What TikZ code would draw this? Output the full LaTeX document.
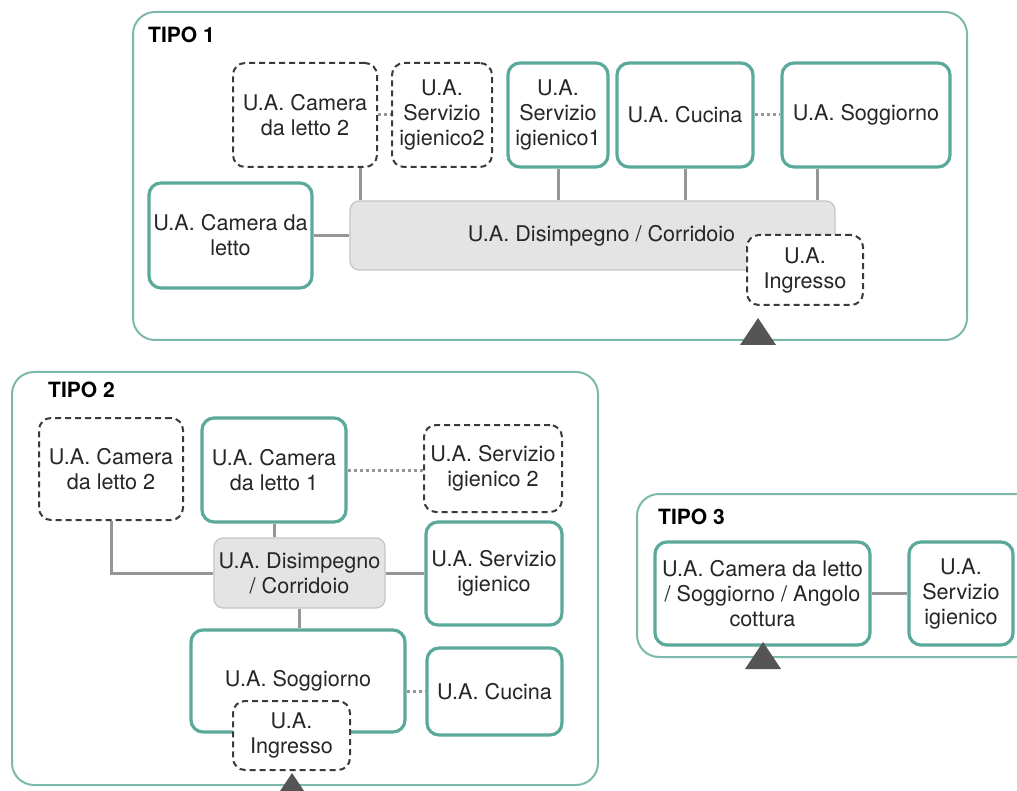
\documentclass[tikz,border=0pt]{standalone}
\usepackage{fontspec}
\setmainfont{TeX Gyre Heros}
\definecolor{roomteal}{HTML}{5BA99A}
\definecolor{frameteal}{HTML}{7DB8AC}
\definecolor{optedge}{HTML}{3A3A3A}
\definecolor{hubfill}{HTML}{E4E4E4}
\definecolor{hubedge}{HTML}{C4C4C4}
\definecolor{linkgray}{HTML}{969696}
\definecolor{entrygray}{HTML}{555555}
\definecolor{txt}{HTML}{262626}
\newcommand\roomfont{\fontsize{21.6}{25}\selectfont}
\newcommand\titlefont{\fontsize{21}{24}\selectfont\bfseries}
\tikzset{
  room/.style={rectangle, rounded corners=12pt, draw=roomteal, line width=3.2pt,
    fill=white, align=center, font=\roomfont, text=txt, inner sep=0pt},
  optroom/.style={rectangle, rounded corners=12pt, draw=optedge, line width=2pt,
    dash pattern=on 6pt off 4pt, fill=white, align=center, font=\roomfont,
    text=txt, inner sep=0pt},
  hub/.style={rectangle, rounded corners=9pt, draw=hubedge, fill=hubfill,
    line width=1.2pt, align=center, font=\roomfont, text=txt, inner sep=0pt},
  frame/.style={draw=frameteal, line width=2pt, rounded corners=22pt},
  link/.style={draw=linkgray, line width=3pt},
  optlink/.style={draw=linkgray, line width=3pt, dash pattern=on 3pt off 3pt},
  entry/.style={fill=entrygray, draw=none},
  title/.style={font=\titlefont, text=black, anchor=west, inner sep=0pt},
  box/.style args={#1x#2}{minimum width=#1pt, minimum height=#2pt}
}
\begin{document}
\begin{tikzpicture}[x=1pt, y=-1pt]
\useasboundingbox (0,0) rectangle (1017,791);
\clip (0,0) rectangle (1017,791);
\fill[white] (0,0) rectangle (1017,791);

% ---------- Tipo 1 ----------
\draw[frame] (133,12) rectangle (967,340);
\node[title] (t1title) at (148,35) {TIPO 1};

\node[hub, box=485x69] (t1dis) at (592.5,235.5) {\hspace*{18pt}U.A. Disimpegno / Corridoio};
\node[optroom, box=144x104] (t1cam2) at (305,115) {U.A. Camera\\da letto 2};
\node[optroom, box=100x104] (t1serv2) at (442,115) {U.A.\\Servizio\\igienico2};
\node[room, box=100x104] (t1serv1) at (558,115) {U.A.\\Servizio\\igienico1};
\node[room, box=136x104] (t1cuc) at (685,115) {U.A. Cucina};
\node[room, box=168x104] (t1sogg) at (866,115) {U.A. Soggiorno};
\node[room, box=163x105] (t1cam) at (230.5,235.5) {U.A. Camera da\\letto};

\draw[link] (t1cam2.south -| 360,0) -- (t1dis.north -| 360,0);
\draw[link] (t1serv1.south) -- (t1dis.north -| t1serv1.south);
\draw[link] (t1cuc.south) -- (t1dis.north -| t1cuc.south);
\draw[link] (t1sogg.south -| 817,0) -- (t1dis.north -| 817,0);
\draw[link] (t1cam.east) -- (t1dis.west |- t1cam.east);
\draw[optlink] (t1cam2.east) -- (t1serv2.west);
\draw[optlink] (t1cuc.east) -- (t1sogg.west);

\node[optroom, box=116x70] (t1ing) at (805,270) {U.A.\\Ingresso};
\fill[entry] (758,318) -- (776,345) -- (740,345) -- cycle;

% ---------- Tipo 2 ----------
\draw[frame] (12,372) rectangle (598,785);
\node[title] (t2title) at (48,390) {TIPO 2};

\node[hub, box=171x70] (t2dis) at (299.5,573) {U.A. Disimpegno\\/ Corridoio};
\node[optroom, box=144x102] (t2cam2) at (111,469) {U.A. Camera\\da letto 2};
\node[room, box=144x104] (t2cam1) at (274,470) {U.A. Camera\\da letto 1};
\node[optroom, box=138x87] (t2serv2) at (493,468.5) {U.A. Servizio\\igienico 2};
\node[room, box=136x103] (t2serv) at (494,573.5) {U.A. Servizio\\igienico};
\node[room, box=214x102] (t2sogg) at (298,681) {U.A. Soggiorno};
\node[room, box=135x87] (t2cuc) at (494.5,691.5) {U.A. Cucina};

\draw[link] (t2cam2.south) |- (t2dis.west);
\draw[link] (t2cam1.south) -- (t2dis.north -| t2cam1.south);
\draw[link] (t2dis.east) -- (t2serv.west |- t2dis.east);
\draw[link] (t2dis.south) -- (t2sogg.north -| t2dis.south);
\draw[optlink] (t2cam1.east) -- (t2serv2.west |- t2cam1.east);
\draw[optlink] (t2sogg.east |- t2cuc.west) -- (t2cuc.west);

\node[optroom, box=117x69] (t2ing) at (291.5,735.5) {U.A.\\Ingresso};
\fill[entry] (292,773) -- (310,800) -- (274,800) -- cycle;

% ---------- Tipo 3 ----------
\draw[frame] (637,494) rectangle (1045,657);
\node[title] (t3title) at (658,517) {TIPO 3};

\node[room, box=215x103] (t3main) at (762.5,593.5) {U.A. Camera da letto\\/ Soggiorno / Angolo\\cottura};
\node[room, box=104x103] (t3serv) at (961,593.5) {U.A.\\Servizio\\igienico};
\draw[link] (t3main.east) -- (t3serv.west);

\fill[entry] (763,642) -- (781,669) -- (745,669) -- cycle;
\end{tikzpicture}
\end{document}
